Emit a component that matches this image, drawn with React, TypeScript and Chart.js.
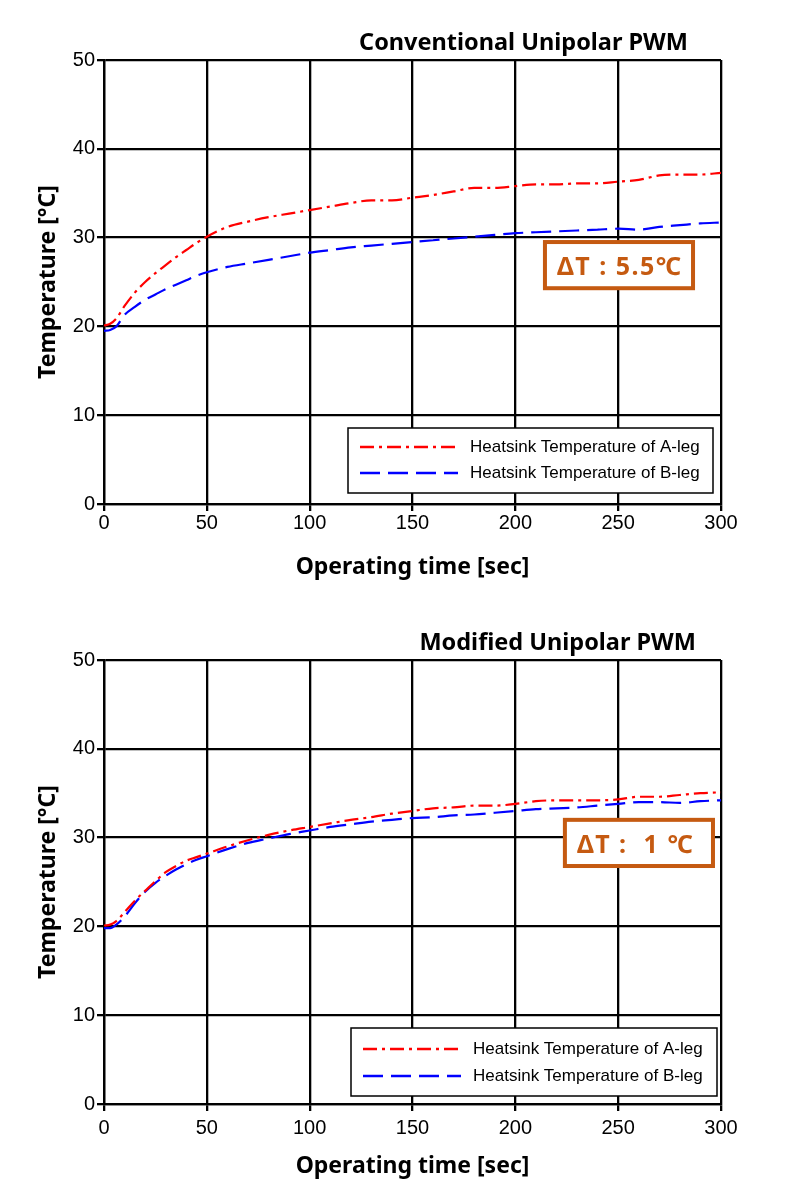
import { useEffect, useRef } from "react";
import { Chart, registerables } from "chart.js";

Chart.register(...registerables);

// Sample times in seconds (shared by every series)
const timeSec = [
  0, 3, 6, 10, 15, 20, 25, 30, 35, 40, 45, 50, 60, 70, 80, 90, 100, 110, 120, 130, 140,
  150, 160, 170, 180, 190, 200, 210, 220, 230, 240, 250, 260, 270, 280, 290, 300,
];

// Conventional unipolar PWM heatsink temperatures [°C]
const conventionalA = [
  20.1, 20.3, 20.9, 22.3, 23.8, 25.0, 26.0, 26.9, 27.8, 28.6, 29.4, 30.1, 31.2, 31.8, 32.3,
  32.7, 33.1, 33.5, 33.9, 34.2, 34.2, 34.5, 34.8, 35.2, 35.6, 35.6, 35.8, 36.0, 36.0, 36.1,
  36.1, 36.3, 36.5, 37.0, 37.1, 37.1, 37.3,
];
const conventionalB = [
  19.5, 19.6, 20.0, 21.3, 22.2, 23.0, 23.6, 24.2, 24.7, 25.2, 25.7, 26.1, 26.7, 27.1, 27.5,
  27.9, 28.3, 28.6, 28.9, 29.1, 29.3, 29.5, 29.7, 29.9, 30.1, 30.3, 30.5, 30.6, 30.7, 30.8,
  30.9, 31.0, 30.9, 31.2, 31.4, 31.6, 31.7,
];

// Modified unipolar PWM heatsink temperatures [°C]
const modifiedA = [
  20.1, 20.2, 20.6, 21.6, 22.9, 24.0, 25.1, 26.1, 26.8, 27.4, 27.8, 28.2, 29.0, 29.7, 30.3,
  30.8, 31.2, 31.6, 32.0, 32.3, 32.7, 33.0, 33.3, 33.4, 33.6, 33.6, 33.8, 34.1, 34.2, 34.2,
  34.2, 34.3, 34.6, 34.6, 34.8, 35.0, 35.1,
];
const modifiedB = [
  19.8, 19.8, 20.2, 21.1, 22.6, 23.9, 24.9, 25.7, 26.4, 27.0, 27.5, 27.9, 28.7, 29.4, 29.9,
  30.4, 30.8, 31.2, 31.5, 31.8, 32.0, 32.2, 32.3, 32.5, 32.6, 32.8, 33.0, 33.2, 33.3, 33.4,
  33.6, 33.8, 34.0, 34.0, 33.9, 34.1, 34.2,
];

const seriesLabels = ["Heatsink Temperature of A-leg", "Heatsink Temperature of B-leg"];
const chartTitles = ["Conventional Unipolar PWM", "Modified Unipolar PWM"];
const deltaLabels = ["ΔT : 5.5℃", "ΔT :  1 ℃"];
const xAxisTitle = "Operating time [sec]";
const yAxisTitle = "Temperature [°C]";

const BROWN = "#C55A11";
const TICK_FONT = { family: "'Liberation Sans', Arial, sans-serif", size: 20 };
const BOLD_FAMILY = "'Noto Sans', 'Noto Sans CJK KR', sans-serif";

// Chart title drawn right-aligned above the plot area
const headlinePlugin = {
  id: "headline",
  afterDraw(chart: any, _args: any, opts: any) {
    const { ctx, chartArea } = chart;
    ctx.save();
    ctx.font = `bold 23.5px ${BOLD_FAMILY}`;
    ctx.fillStyle = "#000";
    ctx.textAlign = "right";
    ctx.textBaseline = "alphabetic";
    ctx.fillText(opts.text, chartArea.right - opts.inset, opts.baseline);
    ctx.restore();
  },
};

// Framed ΔT note anchored in data coordinates
const deltaBoxPlugin = {
  id: "deltaBox",
  afterDatasetsDraw(chart: any, _args: any, opts: any) {
    const { ctx, scales } = chart;
    const x0 = scales.x.getPixelForValue(opts.xFrom);
    const x1 = scales.x.getPixelForValue(opts.xTo);
    const y0 = scales.y.getPixelForValue(opts.yTop);
    const y1 = scales.y.getPixelForValue(opts.yBottom);
    ctx.save();
    ctx.fillStyle = "#fff";
    ctx.fillRect(x0, y0, x1 - x0, y1 - y0);
    ctx.strokeStyle = BROWN;
    ctx.lineWidth = 4;
    ctx.strokeRect(x0, y0, x1 - x0, y1 - y0);
    ctx.fillStyle = BROWN;
    ctx.font = `bold 25px ${BOLD_FAMILY}`;
    (ctx as any).letterSpacing = "1.5px";
    ctx.textAlign = "left";
    ctx.textBaseline = "alphabetic";
    ctx.fillText(opts.text, x0 + 12, y0 + 33);
    ctx.restore();
  },
};

// Framed legend inside the lower-right corner of the plot area
const framedLegendPlugin = {
  id: "framedLegend",
  afterDatasetsDraw(chart: any, _args: any, opts: any) {
    const { ctx, chartArea } = chart;
    const right = chartArea.right - opts.right;
    const bottom = chartArea.bottom - opts.bottom;
    const left = right - opts.width;
    const top = bottom - opts.height;
    ctx.save();
    ctx.fillStyle = "#fff";
    ctx.fillRect(left, top, opts.width, opts.height);
    ctx.strokeStyle = "#000";
    ctx.lineWidth = 1.5;
    ctx.strokeRect(left, top, opts.width, opts.height);
    chart.data.datasets.forEach((ds: any, i: number) => {
      const y = top + opts.rows[i];
      ctx.beginPath();
      ctx.setLineDash(ds.borderDash || []);
      ctx.strokeStyle = ds.borderColor;
      ctx.lineWidth = 2.5;
      ctx.moveTo(left + 12, y);
      ctx.lineTo(left + 110, y);
      ctx.stroke();
      ctx.setLineDash([]);
      ctx.fillStyle = "#000";
      ctx.font = "17px 'Liberation Sans', Arial, sans-serif";
      ctx.textAlign = "left";
      ctx.textBaseline = "middle";
      ctx.fillText(ds.label, left + 122, y);
    });
    ctx.restore();
  },
};

type PanelProps = {
  title: string;
  delta: string;
  seriesA: number[];
  seriesB: number[];
  height: number;
  titleInset: number;
  xTickPad: number;
  xTitlePad: number;
  deltaBox: { xFrom: number; xTo: number; yTop: number; yBottom: number };
  legendBox: { right: number; bottom: number; width: number; height: number; rows: number[] };
};

function TemperaturePanel(props: PanelProps) {
  const ref = useRef<HTMLCanvasElement | null>(null);

  useEffect(() => {
    if (!ref.current) return;
    const chart = new Chart(ref.current, {
      type: "line",
      data: {
        datasets: [
          {
            label: seriesLabels[0],
            data: timeSec.map((t, i) => ({ x: t, y: props.seriesA[i] })),
            borderColor: "#FF0000",
            borderWidth: 2.2,
            borderDash: [14, 5, 3, 5],
            pointRadius: 0,
            cubicInterpolationMode: "monotone",
            fill: false,
          },
          {
            label: seriesLabels[1],
            data: timeSec.map((t, i) => ({ x: t, y: props.seriesB[i] })),
            borderColor: "#0000FF",
            borderWidth: 2.2,
            borderDash: [20, 8],
            pointRadius: 0,
            cubicInterpolationMode: "monotone",
            fill: false,
          },
        ],
      },
      options: {
        responsive: false,
        animation: false,
        events: [],
        layout: { padding: { top: 60, right: 79, left: 0, bottom: 0 } },
        plugins: {
          legend: { display: false },
          tooltip: { enabled: false },
          title: { display: false },
          headline: { text: props.title, inset: props.titleInset, baseline: 50 },
          deltaBox: { text: props.delta, ...props.deltaBox },
          framedLegend: props.legendBox,
        } as any,
        scales: {
          x: {
            type: "linear",
            min: 0,
            max: 300,
            ticks: { stepSize: 50, color: "#000", font: TICK_FONT, padding: props.xTickPad, maxRotation: 0 },
            grid: { color: "#000", lineWidth: 2.3, tickLength: 7 },
            border: { color: "#000", width: 2.3 },
            title: {
              display: true,
              text: xAxisTitle,
              color: "#000",
              font: { family: BOLD_FAMILY, size: 23, weight: "bold" },
              padding: { top: 0, bottom: props.xTitlePad },
            },
            afterFit: (scale: any) => {
              scale.height = props.height - 60 - 444;
            },
          },
          y: {
            type: "linear",
            min: 0,
            max: 50,
            ticks: { stepSize: 10, color: "#000", font: TICK_FONT, padding: 2 },
            grid: { color: "#000", lineWidth: 2.3, tickLength: 7 },
            border: { color: "#000", width: 2.3 },
            title: {
              display: true,
              text: yAxisTitle,
              color: "#000",
              font: { family: BOLD_FAMILY, size: 23, weight: "bold" },
              padding: { top: 35, bottom: 0 },
            },
            afterFit: (scale: any) => {
              scale.width = 104;
            },
          },
        },
      },
      plugins: [headlinePlugin, deltaBoxPlugin, framedLegendPlugin],
    } as any);
    return () => chart.destroy();
  }, []);

  return <canvas ref={ref} width={800} height={props.height} style={{ display: "block" }} />;
}

export default function App() {
  return (
    <div style={{ position: "absolute", left: 0, top: 0, width: 800, height: 1191, background: "#fff" }}>
      <TemperaturePanel
        title={chartTitles[0]}
        delta={deltaLabels[0]}
        seriesA={conventionalA}
        seriesB={conventionalB}
        height={600}
        titleInset={33}
        xTickPad={0}
        xTitlePad={19}
        deltaBox={{ xFrom: 214.4, xTo: 286.4, yTop: 29.5, yBottom: 24.3 }}
        legendBox={{ right: 8, bottom: 11, width: 365, height: 65, rows: [19, 45] }}
      />
      <TemperaturePanel
        title={chartTitles[1]}
        delta={deltaLabels[1]}
        seriesA={modifiedA}
        seriesB={modifiedB}
        height={591}
        titleInset={25}
        xTickPad={5}
        xTitlePad={11}
        deltaBox={{ xFrom: 224.1, xTo: 296.1, yTop: 32.0, yBottom: 26.8 }}
        legendBox={{ right: 4, bottom: 8, width: 366, height: 68, rows: [21, 48] }}
      />
    </div>
  );
}
